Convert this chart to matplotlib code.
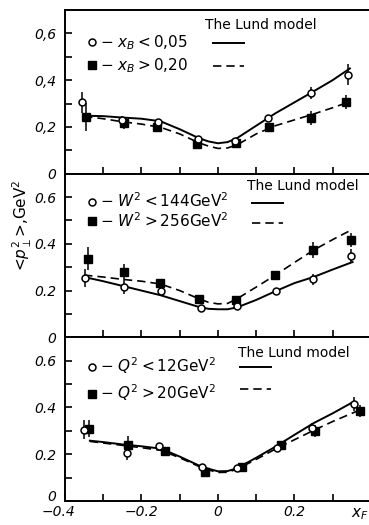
import numpy as np
import matplotlib
matplotlib.use("Agg")
import matplotlib.pyplot as plt
from matplotlib.lines import Line2D
from matplotlib.ticker import FixedLocator, MultipleLocator
from matplotlib.transforms import ScaledTranslation

# panel 1: cut on x_B
xb_lo_x = [-0.356, -0.250, -0.157, -0.052, 0.044, 0.131, 0.244, 0.340]
xb_lo_y = [0.305, 0.230, 0.220, 0.147, 0.141, 0.240, 0.344, 0.423]
xb_lo_err = [0.045, 0.015, 0.012, 0.012, 0.012, 0.012, 0.025, 0.045]
xb_hi_x = [-0.344, -0.245, -0.160, -0.054, 0.047, 0.134, 0.243, 0.336]
xb_hi_y = [0.244, 0.218, 0.198, 0.125, 0.130, 0.201, 0.237, 0.308]
xb_hi_err = [0.060, 0.025, 0.012, 0.012, 0.012, 0.012, 0.030, 0.030]

# panel 2: cut on W^2
w_lo_x = [-0.348, -0.245, -0.148, -0.044, 0.050, 0.152, 0.249, 0.349]
w_lo_y = [0.254, 0.215, 0.198, 0.126, 0.133, 0.197, 0.248, 0.348]
w_lo_err = [0.040, 0.030, 0.012, 0.012, 0.012, 0.012, 0.025, 0.030]
w_hi_x = [-0.340, -0.245, -0.151, -0.049, 0.048, 0.149, 0.249, 0.349]
w_hi_y = [0.337, 0.280, 0.233, 0.163, 0.158, 0.266, 0.373, 0.418]
w_hi_err = [0.050, 0.035, 0.015, 0.012, 0.012, 0.015, 0.035, 0.030]

# panel 3: cut on Q^2
q_lo_x = [-0.350, -0.239, -0.153, -0.043, 0.050, 0.154, 0.245, 0.356]
q_lo_y = [0.305, 0.205, 0.234, 0.144, 0.141, 0.226, 0.312, 0.415]
q_lo_err = [0.040, 0.030, 0.010, 0.010, 0.010, 0.010, 0.020, 0.030]
q_hi_x = [-0.336, -0.235, -0.138, -0.034, 0.062, 0.165, 0.254, 0.371]
q_hi_y = [0.310, 0.241, 0.212, 0.126, 0.144, 0.238, 0.298, 0.384]
q_hi_err = [0.035, 0.035, 0.010, 0.010, 0.010, 0.010, 0.025, 0.025]

# Lund model curves
lund_x = [-0.35, -0.30, -0.25, -0.20, -0.15, -0.10, -0.05, -0.025, 0.0,
          0.025, 0.05, 0.10, 0.15, 0.20, 0.25, 0.30, 0.345]
lund_xb_lo = [0.248, 0.246, 0.240, 0.235, 0.224, 0.190, 0.152, 0.138, 0.130,
              0.135, 0.152, 0.205, 0.258, 0.305, 0.352, 0.400, 0.450]
lund_xb_hi = [0.245, 0.235, 0.222, 0.212, 0.198, 0.170, 0.132, 0.118, 0.108,
              0.110, 0.123, 0.170, 0.205, 0.230, 0.255, 0.282, 0.308]

lund_x2 = [-0.35, -0.30, -0.25, -0.20, -0.15, -0.10, -0.05, -0.025, 0.0,
           0.025, 0.05, 0.10, 0.15, 0.20, 0.25, 0.30, 0.352]
lund_w_lo = [0.258, 0.240, 0.220, 0.200, 0.180, 0.155, 0.130, 0.122, 0.120,
             0.120, 0.128, 0.160, 0.197, 0.232, 0.258, 0.290, 0.322]
lund_w_hi = [0.266, 0.258, 0.248, 0.240, 0.228, 0.200, 0.165, 0.150, 0.143,
             0.145, 0.165, 0.215, 0.266, 0.320, 0.373, 0.418, 0.462]

lund_x3 = [-0.335, -0.30, -0.25, -0.20, -0.15, -0.10, -0.05, -0.025, 0.0,
           0.025, 0.05, 0.10, 0.15, 0.20, 0.25, 0.30, 0.355]
lund_q_lo = [0.258, 0.252, 0.242, 0.234, 0.224, 0.190, 0.152, 0.138, 0.127,
             0.128, 0.140, 0.185, 0.232, 0.283, 0.333, 0.375, 0.425]
lund_x3b = [-0.335, -0.30, -0.25, -0.20, -0.15, -0.10, -0.05, -0.025, 0.0,
            0.025, 0.05, 0.10, 0.15, 0.20, 0.25, 0.30, 0.372]
lund_q_hi = [0.255, 0.248, 0.238, 0.228, 0.217, 0.185, 0.148, 0.133, 0.122,
             0.123, 0.136, 0.178, 0.222, 0.262, 0.302, 0.340, 0.390]

yticks = [0, 0.2, 0.4, 0.6]
ylabels_comma = ['0', '0,2', '0,4', '0,6']
ylabels_dot = ['0', '0.2', '0.4', '0.6']
xticks = [-0.4, -0.2, 0, 0.2]
xlabels = ['\u22120.4', '\u22120.2', '0', '0.2']

legend_labels = [
    (r'$-\ x_{\mathit{B}} < \mathit{0{,}05}$', r'$-\ x_{\mathit{B}} > \mathit{0{,}20}$'),
    (r'$-\ W^{2} < \mathit{144}\mathrm{GeV}^{2}$', r'$-\ W^{2} > \mathit{256}\mathrm{GeV}^{2}$'),
    (r'$-\ Q^{2} < \mathit{12}\mathrm{GeV}^{2}$', r'$-\ Q^{2} > \mathit{20}\mathrm{GeV}^{2}$'),
]

W, H = 369, 525
fig = plt.figure(figsize=(W / 100, H / 100), dpi=100)
gs = fig.add_gridspec(3, 1, left=65 / W, right=1.0, top=1 - 10 / H,
                      bottom=1 - 501 / H, hspace=0)
axes = [fig.add_subplot(gs[i]) for i in range(3)]


def draw_panel(ax, ox, oy, oe, fx, fy, fe, lx1, ly1, lx2, ly2):
    ax.plot(lx1, ly1, color='black', lw=1.4, zorder=2)
    ax.plot(lx2, ly2, color='black', lw=1.2, ls=(0, (5, 3)), zorder=2)
    ax.errorbar(fx, fy, yerr=fe, fmt='s', ms=6, mfc='black', mec='black',
                ecolor='black', elinewidth=1.1, capsize=0, zorder=3)
    ax.errorbar(ox, oy, yerr=oe, fmt='o', ms=5, mfc='white', mec='black',
                mew=1.1, ecolor='black', elinewidth=1.1, capsize=0, zorder=4)


draw_panel(axes[0], xb_lo_x, xb_lo_y, xb_lo_err, xb_hi_x, xb_hi_y, xb_hi_err,
           lund_x, lund_xb_lo, lund_x, lund_xb_hi)
draw_panel(axes[1], w_lo_x, w_lo_y, w_lo_err, w_hi_x, w_hi_y, w_hi_err,
           lund_x2, lund_w_lo, lund_x2, lund_w_hi)
draw_panel(axes[2], q_lo_x, q_lo_y, q_lo_err, q_hi_x, q_hi_y, q_hi_err,
           lund_x3, lund_q_lo, lund_x3b, lund_q_hi)

# legend placement per panel (axes fraction)
mark_anchor = [(0.075, 0.86), (0.075, 0.89), (0.075, 0.89)]
row_gap = [0.3, 0.05, 0.4]
line_anchor = [(0.487, 0.833), (0.615, 0.86), (0.576, 0.855)]
line_gap = [0.58, 0.43, 0.58]
title_pos = [(0.46, 0.907), (0.60, 0.927), (0.57, 0.905)]

for i, ax in enumerate(axes):
    ax.set_xlim(-0.4, 0.395)
    ax.set_ylim(0, 0.7)
    ax.spines['right'].set_visible(False)
    for s in ['left', 'bottom', 'top']:
        ax.spines[s].set_linewidth(1.4)
    ax.yaxis.set_major_locator(FixedLocator(yticks))
    ax.set_yticklabels(ylabels_comma if i == 0 else ylabels_dot,
                       fontsize=10, style='italic')
    ax.yaxis.set_minor_locator(FixedLocator([0.1, 0.3, 0.5]))
    ax.xaxis.set_major_locator(FixedLocator(xticks))
    ax.xaxis.set_minor_locator(MultipleLocator(0.1))
    ax.tick_params(which='both', direction='in', length=5, width=1.2,
                   top=False, right=False)
    ax.tick_params(axis='y', pad=6)
    if i < 2:
        ax.tick_params(axis='x', labelbottom=False)
    else:
        ax.set_xticklabels(xlabels, fontsize=10, style='italic')
        ax.tick_params(axis='x', pad=3)

    # markers with the cut labels
    mk = [Line2D([], [], marker='o', ls='none', ms=5, mfc='white', mec='black', mew=1.1),
          Line2D([], [], marker='s', ls='none', ms=6, mfc='black', mec='black')]
    leg1 = ax.legend(mk, legend_labels[i], loc='upper left',
                     bbox_to_anchor=mark_anchor[i], frameon=False, fontsize=11,
                     handlelength=0.6, handletextpad=0.2, labelspacing=row_gap[i],
                     borderpad=0, borderaxespad=0)
    ax.add_artist(leg1)
    # model line keys
    ln = [Line2D([], [], color='black', lw=1.4),
          Line2D([], [], color='black', lw=1.2, ls=(0, (5, 3)))]
    ax.legend(ln, ['', ''], loc='upper left', bbox_to_anchor=line_anchor[i],
              frameon=False, fontsize=10, handlelength=2.2, handletextpad=0,
              labelspacing=line_gap[i], borderpad=0, borderaxespad=0)
    ax.text(title_pos[i][0], title_pos[i][1], 'The Lund model', fontsize=10,
            transform=ax.transAxes, ha='left', va='center')

# nudge the corner labels apart
axes[2].get_yticklabels()[0].set_transform(
    axes[2].get_yticklabels()[0].get_transform()
    + ScaledTranslation(0, 4 / 72, fig.dpi_scale_trans))
axes[2].get_xticklabels()[0].set_transform(
    axes[2].get_xticklabels()[0].get_transform()
    + ScaledTranslation(-5 / 72, 0, fig.dpi_scale_trans))

axes[2].set_xlabel(r'$x_F$', fontsize=11)
axes[2].xaxis.set_label_coords(0.97, -0.035)

fig.text(22 / W, 1 - 225 / H, r'<$p_{\perp}^{2}$>,GeV$^{2}$', rotation=90,
         fontsize=11, ha='center', va='center')

fig.savefig('out.png', dpi=100)
